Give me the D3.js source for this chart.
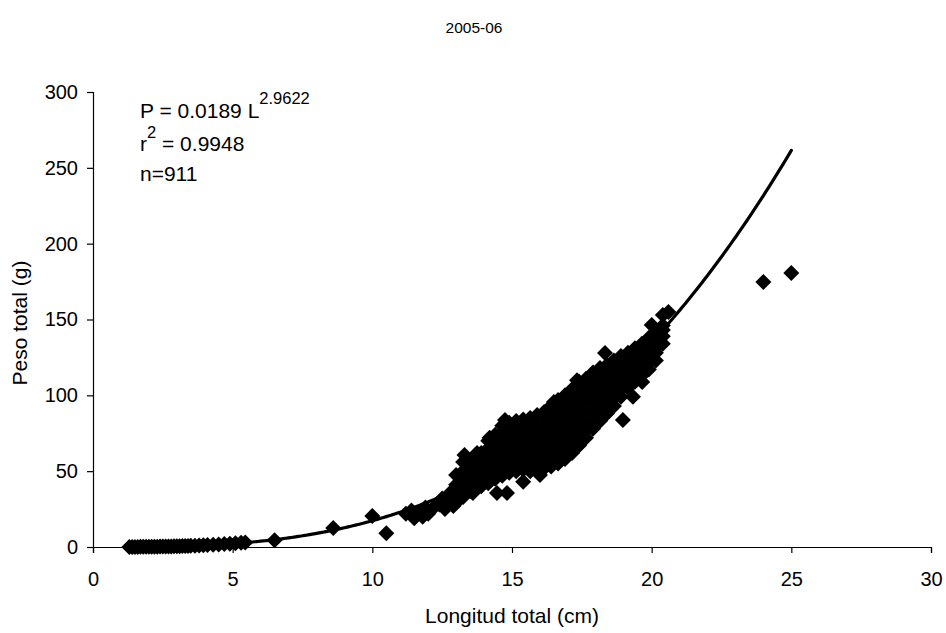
<!DOCTYPE html>
<html>
<head>
<meta charset="utf-8">
<script src="https://cdn.jsdelivr.net/npm/d3@7"></script>
<style>
  html, body { margin: 0; padding: 0; background: #fff; }
  svg { display: block; font-family: "Liberation Sans", Arial, sans-serif; }
</style>
</head>
<body>
<svg id="chart" width="946" height="633"></svg>
<script>
// Relación longitud–peso, campaña 2005-06
const titulo = "2005-06";
const ejeX = "Longitud total (cm)";
const ejeY = "Peso total (g)";
const ticksX = [0, 5, 10, 15, 20, 25, 30];
const ticksY = [0, 50, 100, 150, 200, 250, 300];

// Ajuste potencial P = a·L^b
const coefA = 0.0189;
const coefB = 2.9622;
const r2 = 0.9948;
const nMuestra = 911;
const rangoAjuste = [1.3, 25];

// Ejemplares [longitud (cm), peso (g)]
const juveniles = [
  [1.3,0.04],[1.4,0.05],[1.5,0.06],[1.6,0.08],[1.7,0.09],[1.8,0.11],[1.9,0.13],[2.0,0.15],
  [2.1,0.17],[2.2,0.2],[2.3,0.23],[2.4,0.26],[2.5,0.29],[2.6,0.33],[2.7,0.37],[2.8,0.41],
  [2.9,0.46],[3.0,0.5],[3.1,0.56],[3.2,0.6],[3.3,0.66],[3.4,0.72],[3.5,0.8],[3.65,0.9],
  [3.8,1.0],[3.95,1.1],[4.1,1.3],[4.3,1.5],[4.5,1.7],[4.7,1.9],[4.9,2.2],[5.1,2.5],
  [5.3,2.8],[5.45,3.0],[6.5,4.5],[8.6,12.5],[10.0,20.5],[10.5,9.0]
];

const intermedios = [
  [11.2,22],[11.4,24],[11.5,19],[11.7,23],[11.8,20],[11.9,26],[12.0,22],
  [12.2,26],[12.4,28],[12.5,32],[12.6,25],[12.7,30],[12.8,36],[12.9,27],
  [13.0,31],[13.0,36],[13.0,41],[13.0,47.5],[13.1,31],
  [13.25,33],[13.25,38],[13.25,44],[13.25,50],[13.25,56],[13.3,60.6],
  [13.5,37],[13.5,42],[13.5,48],[13.5,54],[13.6,58.7],[13.6,35.6],
  [13.75,39],[13.75,44],[13.75,50],[13.75,56],[13.75,62],
  [13.9,40],[13.9,45],[13.9,51],[13.9,57],[13.9,62],
  [14.15,42],[14.15,47],[14.15,53],[14.15,59],[14.15,65],[14.15,70],[14.2,72],
  [14.4,45],[14.4,50],[14.4,56],[14.4,62],[14.4,68],[14.4,74],[14.46,35.6],
  [14.65,47],[14.65,52],[14.65,58],[14.65,64],[14.65,70],[14.65,75],[14.65,80],[14.75,83.7],[14.82,35.6],
  [14.9,49],[14.9,54],[14.9,60],[14.9,66],[14.9,72],[14.9,77],[14.9,82],
  [15.15,50],[15.15,55],[15.15,61],[15.15,67],[15.15,72],[15.15,78],[15.15,83],
  [15.4,43],[15.4,51],[15.4,56],[15.4,62],[15.4,68],[15.4,74],[15.4,79],[15.4,84],
  [15.65,50],[15.65,55],[15.65,61],[15.65,67],[15.65,73],[15.65,79],[15.65,85],
  [15.9,51],[15.9,56],[15.9,62],[15.9,68],[15.9,74],[15.9,80],[15.9,87],[16.0,47.5],
  [16.15,52],[16.15,57],[16.15,63],[16.15,69],[16.15,75],[16.15,81],[16.15,86],[16.15,89],
  [16.4,53],[16.4,58],[16.4,64],[16.4,70],[16.4,76],[16.4,82],[16.4,88],[16.4,93],[16.5,95.6],
  [16.65,55],[16.65,60],[16.65,66],[16.65,72],[16.65,78],[16.65,84],[16.65,90],[16.65,97]
];

const adultos = [
  [16.9,58],[16.9,63],[16.9,69],[16.9,75],[16.9,81],[16.9,87],[16.9,93],[16.9,100],
  [17.15,62],[17.15,67],[17.15,73],[17.15,79],[17.15,85],[17.15,91],[17.15,97],[17.15,104],[17.33,110],
  [17.4,67],[17.4,72],[17.4,78],[17.4,84],[17.4,90],[17.4,96],[17.4,102],[17.4,109],
  [17.65,72],[17.65,77],[17.65,83],[17.65,89],[17.65,95],[17.65,100],[17.65,106],[17.65,111],
  [17.9,78],[17.9,83],[17.9,89],[17.9,95],[17.9,101],[17.9,107],[17.9,112],[17.9,115],
  [18.15,83],[18.15,88],[18.15,94],[18.15,100],[18.15,106],[18.15,112],[18.15,118],[18.33,127.9],
  [18.4,88],[18.4,93],[18.4,99],[18.4,105],[18.4,110],[18.4,115],[18.4,120],
  [18.65,93],[18.65,98],[18.65,104],[18.65,109],[18.65,114],[18.65,119],[18.65,123],
  [18.9,99],[18.9,104],[18.9,109],[18.9,114],[18.9,119],[18.9,123],[18.9,126],[18.97,83.7],
  [19.15,105],[19.15,110],[19.15,115],[19.15,120],[19.15,124],[19.15,128],[19.33,99],
  [19.4,109],[19.4,114],[19.4,119],[19.4,124],[19.4,128],[19.4,131],
  [19.65,113],[19.65,118],[19.65,123],[19.65,127],[19.65,131],[19.65,134],[19.66,108.8],
  [19.9,117],[19.9,122],[19.9,127],[19.9,131],[19.9,135],[19.9,138],[20.0,146.4],
  [20.15,123],[20.15,128],[20.15,132],[20.15,136],[20.15,140],[20.2,133],
  [20.4,134],[20.4,139],[20.4,143],[20.4,146],[20.4,153],[20.6,155],
  [24.0,174.7],[25.0,180.6]
];

const svg = d3.select("#chart");
const margin = { left: 93, right: 15, top: 92, bottom: 86 };
const W = 946, H = 633;

const x = d3.scaleLinear().domain([0, 30]).range([margin.left, W - margin.right]);
const y = d3.scaleLinear().domain([0, 300]).range([H - margin.bottom, margin.top]);

// Ejes
const gx = svg.append("g")
  .attr("transform", `translate(0,${y(0)})`)
  .call(d3.axisBottom(x).tickValues(ticksX).tickSize(6).tickPadding(19).tickFormat(d3.format("d")));
const gy = svg.append("g")
  .attr("transform", `translate(${x(0)},0)`)
  .call(d3.axisLeft(y).tickValues(ticksY).tickSize(6).tickPadding(9).tickFormat(d3.format("d")));

[gx, gy].forEach(g => {
  g.select(".domain").attr("stroke", "#000").attr("stroke-width", 1.2);
  g.selectAll(".tick line").attr("stroke", "#000").attr("stroke-width", 1.2);
  g.selectAll(".tick text").attr("fill", "#000").attr("font-size", 20)
    .attr("font-family", "Liberation Sans, Arial, sans-serif");
});

// Puntos
const diamante = "M0,-8L8,0L0,8L-8,0Z";
const todos = juveniles.concat(intermedios, adultos);
svg.append("g").selectAll("path")
  .data(todos)
  .join("path")
  .attr("d", diamante)
  .attr("transform", d => `translate(${x(d[0])},${y(d[1])})`)
  .attr("fill", "#000");

// Curva de ajuste
const curva = d3.range(rangoAjuste[0], rangoAjuste[1] + 0.001, 0.1)
  .map(l => [l, coefA * Math.pow(l, coefB)]);
svg.append("path")
  .datum(curva)
  .attr("fill", "none")
  .attr("stroke", "#000")
  .attr("stroke-width", 3.2)
  .attr("stroke-linecap", "round")
  .attr("d", d3.line().x(d => x(d[0])).y(d => y(d[1])).curve(d3.curveMonotoneX));

// Título y rótulos de ejes
svg.append("text")
  .attr("x", 474).attr("y", 33)
  .attr("text-anchor", "middle").attr("font-size", 15.5).text(titulo);
svg.append("text")
  .attr("x", x(15)).attr("y", 623)
  .attr("text-anchor", "middle").attr("font-size", 21).text(ejeX);
svg.append("text")
  .attr("transform", `translate(27,323) rotate(-90)`)
  .attr("text-anchor", "middle").attr("font-size", 21).text(ejeY);

// Ecuación del ajuste
const eq = svg.append("g").attr("font-size", 21);
const t1 = eq.append("text").attr("x", 140).attr("y", 118);
t1.append("tspan").text(`P = ${coefA} L`);
t1.append("tspan").attr("dy", -14).attr("font-size", 16.5).text(coefB);
const t2 = eq.append("text").attr("x", 140).attr("y", 151);
t2.append("tspan").text("r");
t2.append("tspan").attr("dy", -13).attr("font-size", 16.5).text("2");
t2.append("tspan").attr("dy", 13).text(` = ${r2}`);
eq.append("text").attr("x", 140).attr("y", 181).text(`n=${nMuestra}`);
</script>
</body>
</html>
